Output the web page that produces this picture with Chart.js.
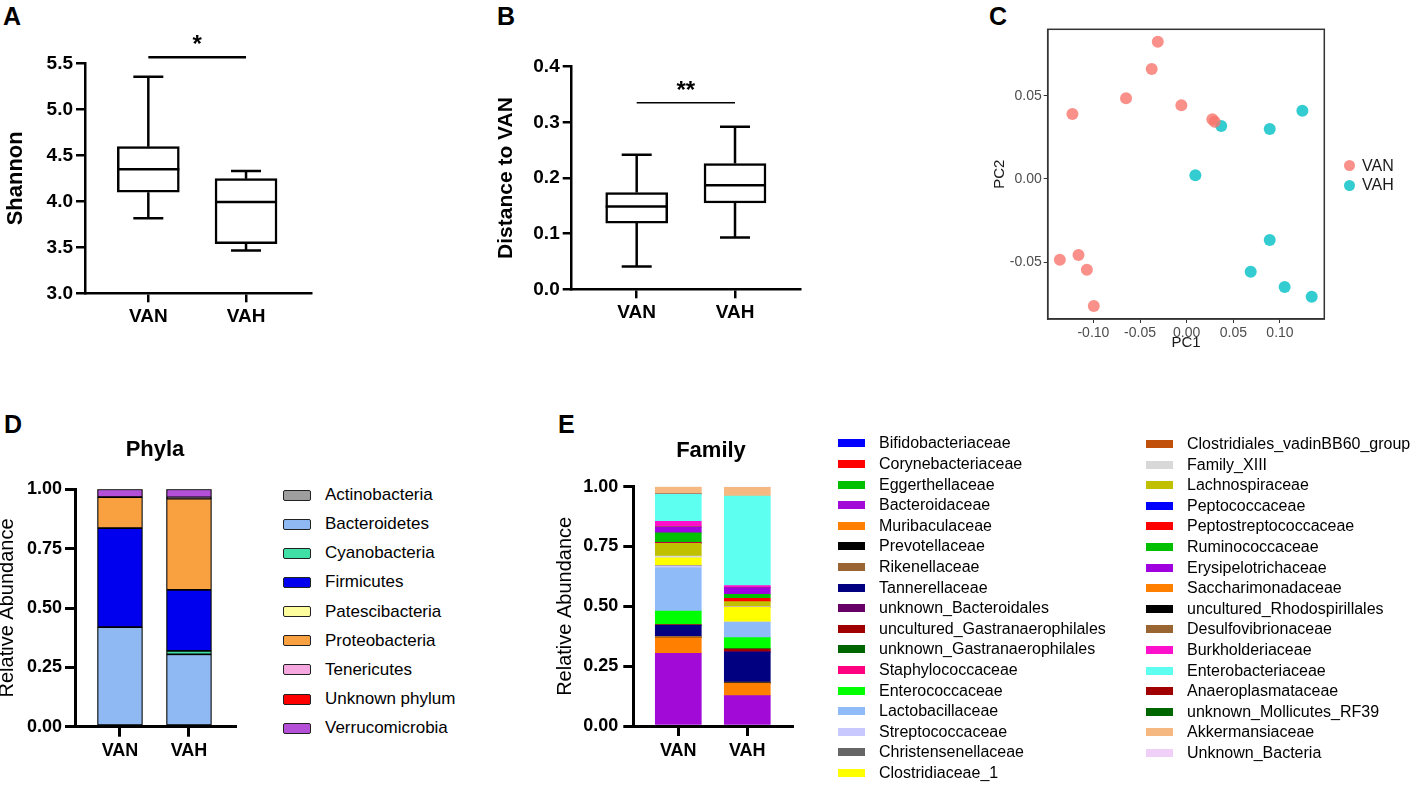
<!DOCTYPE html>
<html>
<head>
<meta charset="utf-8">
<script src="https://cdn.jsdelivr.net/npm/chart.js@4.4.1/dist/chart.umd.min.js"></script>
<style>
  body { margin: 0; background: #fff; width: 1425px; height: 788px; position: relative; overflow: hidden;
         font-family: Arial, "Liberation Sans", sans-serif; color: #000; }
  .panel { position: absolute; }
  .letter { position: absolute; font-weight: bold; font-size: 25px; line-height: 1; }
  .ptitle { position: absolute; width: 200px; text-align: center; font-weight: bold; font-size: 22px; line-height: 1; }
  .lg { position: absolute; white-space: nowrap; }
  .lg .box { position: absolute; }
</style>
</head>
<body>
<div class="letter" style="left:3px;top:4px">A</div>
<div class="letter" style="left:497px;top:4px">B</div>
<div class="letter" style="left:989px;top:4px">C</div>
<div class="letter" style="left:4px;top:412px">D</div>
<div class="letter" style="left:558px;top:412px">E</div>

<div class="panel" style="left:0;top:0;width:330px;height:360px"><canvas id="shannonChart"></canvas></div>
<div class="panel" style="left:480px;top:0;width:330px;height:360px"><canvas id="distChart"></canvas></div>
<div class="panel" style="left:960px;top:0;width:400px;height:360px"><canvas id="pcaChart"></canvas></div>
<div class="panel" style="left:-6px;top:420px;width:250px;height:368px"><canvas id="phylaChart"></canvas></div>
<div class="panel" style="left:552px;top:420px;width:250px;height:368px"><canvas id="familyChart"></canvas></div>

<div class="ptitle" style="left:55px;top:438px">Phyla</div>
<div class="ptitle" style="left:611px;top:439px">Family</div>

<div id="pcaLegend"></div>
<div id="phylaLegend"></div>
<div id="familyLegend"></div>

<script>
// ---- data ----
const groups = ["VAN", "VAH"];

// box stats: [min, q1, median, q3, max]
const shannonVAN = [3.815, 4.098, 4.348, 4.594, 5.354];
const shannonVAH = [3.464, 3.54, 3.993, 4.246, 4.33];
const shannonTicks = [3.0, 3.5, 4.0, 4.5, 5.0, 5.5];

const distVAN = [0.041, 0.119, 0.149, 0.174, 0.242];
const distVAH = [0.093, 0.155, 0.187, 0.226, 0.292];
const distTicks = [0.0, 0.1, 0.2, 0.3, 0.4];

// PCoA coordinates
const pc1VAN = [-0.031, -0.0375, -0.065, -0.0057, -0.1225, 0.0275, 0.030, -0.136, -0.116, -0.107, -0.0996];
const pc2VAN = [0.0824, 0.066, 0.0484, 0.0442, 0.039, 0.0358, 0.0344, -0.0484, -0.0456, -0.0544, -0.0762];
const pc1VAH = [0.037, 0.089, 0.124, 0.0093, 0.089, 0.0686, 0.105, 0.134];
const pc2VAH = [0.0318, 0.030, 0.041, 0.0022, -0.0366, -0.0556, -0.0648, -0.0706];
const pcTicksX = [-0.10, -0.05, 0.00, 0.05, 0.10];
const pcTicksY = [-0.05, 0.00, 0.05];

// phyla relative abundance
const phylaNames = ["Actinobacteria", "Bacteroidetes", "Cyanobacteria", "Firmicutes", "Patescibacteria",
  "Proteobacteria", "Tenericutes", "Unknown phylum", "Verrucomicrobia"];
const phylaVAN = [0, 0.419, 0, 0.417, 0, 0.131, 0, 0, 0.033];
const phylaVAH = [0, 0.305, 0.014, 0.257, 0, 0.385, 0.005, 0, 0.034];

// family relative abundance
const familyNames = ["Bifidobacteriaceae", "Corynebacteriaceae", "Eggerthellaceae", "Bacteroidaceae",
  "Muribaculaceae", "Prevotellaceae", "Rikenellaceae", "Tannerellaceae", "unknown_Bacteroidales",
  "uncultured_Gastranaerophilales", "unknown_Gastranaerophilales", "Staphylococcaceae", "Enterococcaceae",
  "Lactobacillaceae", "Streptococcaceae", "Christensenellaceae", "Clostridiaceae_1",
  "Clostridiales_vadinBB60_group", "Family_XIII", "Lachnospiraceae", "Peptococcaceae",
  "Peptostreptococcaceae", "Ruminococcaceae", "Erysipelotrichaceae", "Saccharimonadaceae",
  "uncultured_Rhodospirillales", "Desulfovibrionaceae", "Burkholderiaceae", "Enterobacteriaceae",
  "Anaeroplasmataceae", "unknown_Mollicutes_RF39", "Akkermansiaceae", "Unknown_Bacteria"];
const familyVAN = [0, 0, 0, 0.304, 0.065, 0.002, 0.004, 0.046, 0.001, 0.002, 0, 0, 0.056, 0.181, 0.008, 0.001,
  0.033, 0, 0.007, 0.053, 0.001, 0.004, 0.039, 0.024, 0, 0, 0.002, 0.022, 0.114, 0.001, 0, 0.030, 0];
const familyVAH = [0, 0, 0, 0.127, 0.051, 0.002, 0.004, 0.125, 0.002, 0.010, 0.003, 0, 0.045, 0.064, 0.002, 0,
  0.061, 0.001, 0.003, 0.020, 0, 0.014, 0.016, 0.028, 0, 0, 0.001, 0.008, 0.374, 0, 0, 0.036, 0.003];
const abundanceTicks = [0, 0.25, 0.5, 0.75, 1.0];

// ---- colours ----
const phylaColors = ["#9e9e9e", "#8fb9f2", "#3fe0a6", "#0000ee", "#fdfd9e", "#f9a040", "#f5a8e0", "#ff0000", "#b44fd8"];
const familyColors = ["#0000ff", "#ff0000", "#00c000", "#a20ad8", "#ff8000", "#000000", "#996633", "#000080",
  "#660066", "#a00000", "#006600", "#ff0080", "#00ff00", "#8fbcf8", "#c8c8ff", "#666666", "#ffff00", "#c0500a",
  "#d8d8d8", "#c0c000", "#0000ff", "#ff0000", "#00c000", "#a000e0", "#ff8000", "#000000", "#996633", "#ff10cc",
  "#5cfff0", "#a00000", "#006600", "#f5b880", "#f0d0f8"];
const pcaColors = ["rgba(248,118,109,0.8)", "rgba(0,191,196,0.8)"];

const FONT = 'Arial, "Liberation Sans", sans-serif';
Chart.defaults.font.family = FONT;
Chart.defaults.color = "#000";
Chart.defaults.animation = false;

function fixedTicks(list) {
  return (scale) => { scale.ticks = list.map((v) => ({ value: v })); };
}

// whiskers, caps, medians and the significance bar, drawn on the chart scales
function boxPlugin(stats, sig) {
  return {
    id: "boxWhisk",
    afterDatasetsDraw(chart) {
      const { ctx, scales: { x, y } } = chart;
      const meta = chart.getDatasetMeta(0);
      ctx.save();
      ctx.strokeStyle = "#000";
      ctx.lineWidth = 2.5;
      stats.forEach((s, i) => {
        const cx = x.getPixelForValue(i + 1);
        const half = meta.data[i].width / 2;
        ctx.beginPath();
        ctx.moveTo(cx, y.getPixelForValue(s[4]));
        ctx.lineTo(cx, y.getPixelForValue(s[3]));
        ctx.moveTo(cx, y.getPixelForValue(s[1]));
        ctx.lineTo(cx, y.getPixelForValue(s[0]));
        [s[0], s[4]].forEach((v) => {
          const py = y.getPixelForValue(v);
          ctx.moveTo(cx - 15, py);
          ctx.lineTo(cx + 15, py);
        });
        const my = y.getPixelForValue(s[2]);
        ctx.moveTo(cx - half, my);
        ctx.lineTo(cx + half, my);
        ctx.stroke();
      });
      // significance
      const sy = y.getPixelForValue(sig.y);
      ctx.lineWidth = sig.width;
      ctx.beginPath();
      ctx.moveTo(x.getPixelForValue(1), sy);
      ctx.lineTo(x.getPixelForValue(2), sy);
      ctx.stroke();
      ctx.fillStyle = "#000";
      ctx.font = "bold 24px " + FONT;
      ctx.textAlign = "center";
      ctx.textBaseline = "middle";
      ctx.fillText(sig.text, (x.getPixelForValue(1) + x.getPixelForValue(2)) / 2, sy - sig.gap);
      ctx.restore();
    },
  };
}

function boxChart(id, stats, ticks, dec, yTitle, cfg) {
  const ctx = document.getElementById(id).getContext("2d");
  return new Chart(ctx, {
    type: "bar",
    data: {
      datasets: [{
        data: stats.map((s, i) => ({ x: i + 1, y: [s[1], s[3]] })),
        backgroundColor: "#fff",
        borderColor: "#000",
        borderWidth: 2.5,
        borderSkipped: false,
        barThickness: 62,
      }],
    },
    options: {
      responsive: true,
      maintainAspectRatio: false,
      layout: { padding: { top: cfg.top, right: cfg.right, left: 0, bottom: 0 } },
      plugins: { legend: { display: false }, tooltip: { enabled: false } },
      scales: {
        x: {
          type: "linear",
          offset: false,
          min: cfg.xMin,
          max: cfg.xMax,
          afterBuildTicks: fixedTicks([1, 2]),
          afterFit: (s) => { s.height = cfg.xHeight; },
          ticks: { font: { size: 19, weight: "bold" }, padding: 3, callback: (v) => groups[v - 1] },
          grid: { offset: false, drawOnChartArea: false, tickLength: 9, lineWidth: 2.5, color: "#000" },
          border: { color: "#000", width: 2.5 },
        },
        y: {
          min: ticks[0],
          max: ticks[ticks.length - 1],
          afterBuildTicks: fixedTicks(ticks),
          afterFit: (s) => { s.width = cfg.yWidth; },
          ticks: { font: { size: 19, weight: "bold" }, padding: 3, callback: (v) => v.toFixed(dec) },
          grid: { drawOnChartArea: false, tickLength: 9, lineWidth: 2.5, color: "#000" },
          border: { color: "#000", width: 2.5 },
          title: { display: true, text: yTitle, font: { size: cfg.titleSize, weight: "bold" }, padding: { top: cfg.titlePad } },
        },
      },
    },
    plugins: [boxPlugin(stats, cfg.sig)],
  });
}

boxChart("shannonChart", [shannonVAN, shannonVAH], shannonTicks, 1, "Shannon", {
  top: 63.3, right: 18.3, xHeight: 66.7, yWidth: 85, xMin: 0.352, xMax: 2.672,
  titleSize: 22, titlePad: 2.3,
  sig: { y: 5.565, text: "*", gap: 12, width: 2.5 },
});

boxChart("distChart", [distVAN, distVAH], distTicks, 1, "Distance to VAN", {
  top: 66.7, right: 10, xHeight: 70.7, yWidth: 91.7, xMin: 0.339, xMax: 2.661,
  titleSize: 21, titlePad: 14,
  sig: { y: 0.3353, text: "**", gap: 11, width: 1.5 },
});

// ---- PCoA scatter ----
const framePlugin = {
  id: "frame",
  afterDraw(chart) {
    const { ctx, chartArea: a } = chart;
    ctx.save();
    ctx.strokeStyle = "#333";
    ctx.lineWidth = 1.5;
    ctx.strokeRect(a.left, a.top, a.right - a.left, a.bottom - a.top);
    ctx.restore();
  },
};

new Chart(document.getElementById("pcaChart").getContext("2d"), {
  type: "scatter",
  data: {
    datasets: [
      { label: groups[0], data: pc1VAN.map((v, i) => ({ x: v, y: pc2VAN[i] })), backgroundColor: pcaColors[0], borderWidth: 0, pointRadius: 6 },
      { label: groups[1], data: pc1VAH.map((v, i) => ({ x: v, y: pc2VAH[i] })), backgroundColor: pcaColors[1], borderWidth: 0, pointRadius: 6 },
    ],
  },
  options: {
    responsive: true,
    maintainAspectRatio: false,
    layout: { padding: { top: 29.3, right: 35.7, left: 0, bottom: 0 } },
    plugins: { legend: { display: false }, tooltip: { enabled: false } },
    scales: {
      x: {
        min: -0.149, max: 0.1475,
        afterBuildTicks: fixedTicks(pcTicksX),
        afterFit: (s) => { s.height = 41; },
        ticks: { font: { size: 14 }, color: "#4d4d4d", padding: 2, callback: (v) => v.toFixed(2) },
        grid: { drawOnChartArea: false, tickLength: 4, color: "#333" },
        border: { color: "#333", width: 1.5 },
        title: { display: true, text: "PC1", font: { size: 15 }, color: "#1a1a1a", padding: { top: 0, bottom: 8 } },
      },
      y: {
        min: -0.084, max: 0.0898,
        afterBuildTicks: fixedTicks(pcTicksY),
        afterFit: (s) => { s.width = 87.7; },
        ticks: { font: { size: 14 }, color: "#4d4d4d", padding: 2, callback: (v) => v.toFixed(2) },
        grid: { drawOnChartArea: false, tickLength: 4, color: "#333" },
        border: { color: "#333", width: 1.5 },
        title: { display: true, text: "PC2", font: { size: 15 }, color: "#1a1a1a", padding: { top: 31 } },
      },
    },
  },
  plugins: [framePlugin],
});

// ---- stacked abundance bars ----
function stackChart(id, names, van, vah, colors, bordered, cfg) {
  const datasets = names.map((n, i) => ({
    label: n,
    data: [{ x: 1, y: van[i] || null }, { x: 2, y: vah[i] || null }],
    backgroundColor: colors[i],
    borderColor: "#000",
    borderWidth: bordered ? 1.2 : 0,
    borderSkipped: false,
    barThickness: cfg.barWidth,
  }));
  return new Chart(document.getElementById(id).getContext("2d"), {
    type: "bar",
    data: { datasets },
    options: {
      responsive: true,
      maintainAspectRatio: false,
      layout: { padding: { top: cfg.top, right: cfg.right, left: 0, bottom: 0 } },
      plugins: { legend: { display: false }, tooltip: { enabled: false } },
      scales: {
        x: {
          type: "linear",
          stacked: true,
          offset: false,
          min: cfg.xMin, max: cfg.xMax,
          afterBuildTicks: fixedTicks([1, 2]),
          afterFit: (s) => { s.height = cfg.xHeight; },
          ticks: { font: { size: 18, weight: "bold" }, padding: 4, callback: (v) => groups[v - 1] },
          grid: { offset: false, drawOnChartArea: false, tickLength: 10, lineWidth: 3, color: "#000" },
          border: { color: "#000", width: 3 },
        },
        y: {
          stacked: true,
          min: 0, max: 1,
          afterBuildTicks: fixedTicks(abundanceTicks),
          afterFit: (s) => { s.width = cfg.yWidth; },
          ticks: { font: { size: 18, weight: "bold" }, padding: cfg.tickPad, callback: (v) => v.toFixed(2) },
          grid: { drawOnChartArea: false, tickLength: 10, lineWidth: 3, color: "#000" },
          border: { color: "#000", width: 3 },
          title: { display: true, text: "Relative Abundance", font: { size: 20 }, padding: { top: 1.5 } },
        },
      },
    },
  });
}

stackChart("phylaChart", phylaNames, phylaVAN, phylaVAH, phylaColors, true, {
  top: 69.3, right: 9, xHeight: 61.3, yWidth: 81, xMin: 0.348, xMax: 2.667, barWidth: 45, tickPad: 3,
});
stackChart("familyChart", familyNames, familyVAN, familyVAH, familyColors, false, {
  top: 66.7, right: 10, xHeight: 62, yWidth: 81.3, xMin: 0.348, xMax: 2.648, barWidth: 46, tickPad: 5,
});

// ---- legends (html) ----
function legendRow(parent, cx, cy, label, color, o) {
  const row = document.createElement("div");
  row.className = "lg";
  row.style.left = cx.box + "px";
  row.style.top = (cy - 10) + "px";
  row.style.height = "20px";
  row.style.lineHeight = "20px";
  row.style.fontSize = o.font + "px";
  const box = document.createElement("span");
  box.className = "box";
  box.style.left = "0px";
  box.style.top = (10 - o.h / 2) + "px";
  box.style.width = o.w + "px";
  box.style.height = o.h + "px";
  box.style.background = color;
  if (o.border) { box.style.border = o.border; box.style.boxSizing = "border-box"; box.style.borderRadius = o.radius || "0"; }
  const txt = document.createElement("span");
  txt.style.position = "absolute";
  txt.style.left = (cx.text - cx.box) + "px";
  txt.style.color = o.color || "#000";
  txt.textContent = label;
  row.appendChild(box);
  row.appendChild(txt);
  parent.appendChild(row);
}

const pcaLegend = document.getElementById("pcaLegend");
groups.forEach((g, i) => {
  legendRow(pcaLegend, { box: 1343.5, text: 1362 }, 165.7 + i * 19.5, g, pcaColors[i],
    { w: 11, h: 11, font: 16, radius: "50%", border: "0 solid transparent", color: "#1a1a1a" });
});

const phylaLegend = document.getElementById("phylaLegend");
phylaNames.forEach((n, i) => {
  legendRow(phylaLegend, { box: 283, text: 325 }, 495 + i * 29.16, n, phylaColors[i],
    { w: 28, h: 11, font: 17, border: "1.2px solid #222", radius: "2px" });
});

const familyLegend = document.getElementById("familyLegend");
familyNames.forEach((n, i) => {
  const left = i < 17;
  const k = left ? i : i - 17;
  const pos = left ? { box: 838, text: 879 } : { box: 1146, text: 1187 };
  const y0 = left ? 443.3 : 444;
  legendRow(familyLegend, pos, y0 + k * 20.6, n, familyColors[i], { w: 27, h: 8, font: 16 });
});
</script>
</body>
</html>
